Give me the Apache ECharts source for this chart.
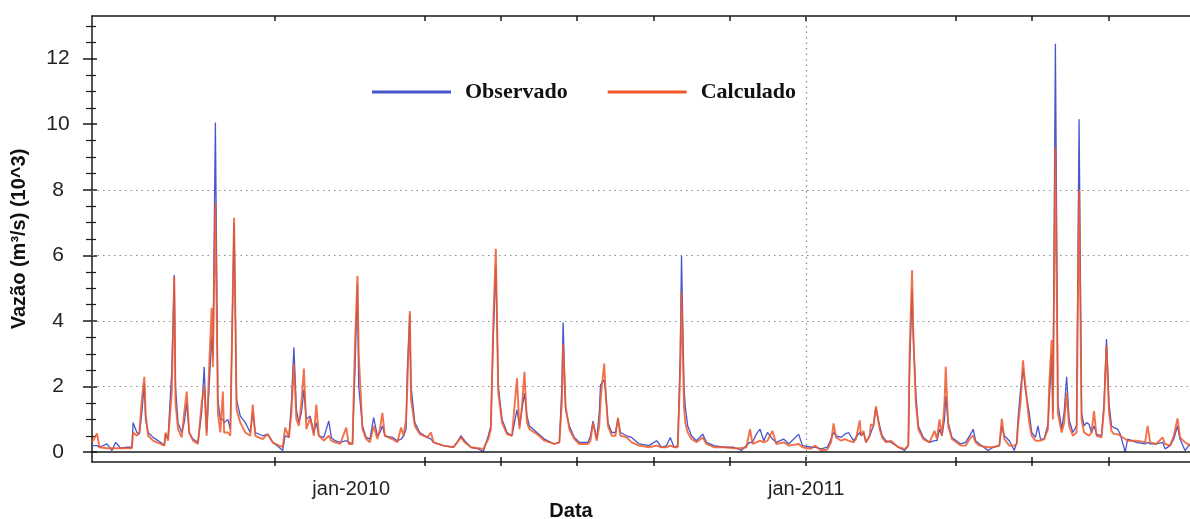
<!DOCTYPE html>
<html><head><meta charset="utf-8">
<script src="https://cdn.jsdelivr.net/npm/echarts@6/dist/echarts.min.js"></script>
<style>html,body{margin:0;padding:0;background:#fff;}#c{width:1190px;height:519px;}</style>
</head><body><div id="c"></div>
<script>
// ---- data (daily discharge, 10^3 m3/s) ----
const dates = ['2009-06-07','2009-06-11','2009-06-13','2009-06-19','2009-06-23','2009-06-26','2009-06-30','2009-07-05','2009-07-09','2009-07-10','2009-07-13','2009-07-15','2009-07-17','2009-07-19','2009-07-20','2009-07-22','2009-07-26','2009-08-01','2009-08-04','2009-08-05','2009-08-07','2009-08-10','2009-08-12','2009-08-13','2009-08-15','2009-08-18','2009-08-20','2009-08-22','2009-08-24','2009-08-27','2009-08-31','2009-09-01','2009-09-03','2009-09-05','2009-09-07','2009-09-09','2009-09-11','2009-09-12','2009-09-14','2009-09-16','2009-09-18','2009-09-20','2009-09-21','2009-09-24','2009-09-26','2009-09-29','2009-10-01','2009-10-04','2009-10-08','2009-10-12','2009-10-14','2009-10-16','2009-10-22','2009-10-26','2009-10-30','2009-11-04','2009-11-07','2009-11-09','2009-11-12','2009-11-14','2009-11-16','2009-11-18','2009-11-20','2009-11-22','2009-11-24','2009-11-26','2009-11-29','2009-12-02','2009-12-04','2009-12-06','2009-12-10','2009-12-14','2009-12-16','2009-12-19','2009-12-23','2009-12-28','2009-12-30','2010-01-02','2010-01-04','2010-01-06','2010-01-07','2010-01-10','2010-01-13','2010-01-16','2010-01-19','2010-01-22','2010-01-24','2010-01-26','2010-01-28','2010-02-03','2010-02-07','2010-02-10','2010-02-12','2010-02-14','2010-02-15','2010-02-17','2010-02-18','2010-02-21','2010-02-25','2010-03-03','2010-03-06','2010-03-08','2010-03-16','2010-03-24','2010-03-27','2010-03-30','2010-04-02','2010-04-07','2010-04-13','2010-04-17','2010-04-21','2010-04-23','2010-04-25','2010-04-27','2010-04-29','2010-05-02','2010-05-06','2010-05-10','2010-05-12','2010-05-14','2010-05-16','2010-05-18','2010-05-20','2010-05-22','2010-05-24','2010-05-30','2010-06-05','2010-06-13','2010-06-17','2010-06-19','2010-06-20','2010-06-22','2010-06-25','2010-06-29','2010-07-03','2010-07-10','2010-07-12','2010-07-14','2010-07-17','2010-07-19','2010-07-20','2010-07-21','2010-07-23','2010-07-24','2010-07-26','2010-07-29','2010-08-01','2010-08-03','2010-08-05','2010-08-10','2010-08-14','2010-08-20','2010-08-28','2010-09-03','2010-09-07','2010-09-11','2010-09-14','2010-09-17','2010-09-20','2010-09-22','2010-09-23','2010-09-25','2010-09-26','2010-09-28','2010-10-01','2010-10-05','2010-10-10','2010-10-13','2010-10-19','2010-10-27','2010-11-04','2010-11-10','2010-11-14','2010-11-17','2010-11-19','2010-11-22','2010-11-25','2010-11-28','2010-12-01','2010-12-05','2010-12-08','2010-12-14','2010-12-18','2010-12-26','2010-12-29','2011-01-05','2011-01-08','2011-01-13','2011-01-18','2011-01-21','2011-01-23','2011-01-25','2011-01-29','2011-02-01','2011-02-04','2011-02-08','2011-02-10','2011-02-13','2011-02-14','2011-02-16','2011-02-18','2011-02-21','2011-02-22','2011-02-24','2011-02-26','2011-03-01','2011-03-03','2011-03-06','2011-03-10','2011-03-16','2011-03-21','2011-03-24','2011-03-25','2011-03-27','2011-03-28','2011-03-30','2011-04-01','2011-04-05','2011-04-10','2011-04-14','2011-04-16','2011-04-18','2011-04-20','2011-04-22','2011-04-23','2011-04-25','2011-04-28','2011-05-05','2011-05-09','2011-05-13','2011-05-15','2011-05-17','2011-05-20','2011-05-27','2011-05-31','2011-06-05','2011-06-07','2011-06-09','2011-06-13','2011-06-17','2011-06-19','2011-06-20','2011-06-22','2011-06-24','2011-06-26','2011-06-29','2011-07-01','2011-07-04','2011-07-06','2011-07-08','2011-07-11','2011-07-14','2011-07-15','2011-07-17','2011-07-18','2011-07-20','2011-07-22','2011-07-25','2011-07-27','2011-07-29','2011-07-31','2011-08-03','2011-08-06','2011-08-08','2011-08-10','2011-08-12','2011-08-14','2011-08-16','2011-08-18','2011-08-20','2011-08-22','2011-08-26','2011-08-28','2011-08-30','2011-09-01','2011-09-03','2011-09-05','2011-09-08','2011-09-10','2011-09-14','2011-09-16','2011-09-23','2011-09-30','2011-10-02','2011-10-04','2011-10-09','2011-10-14','2011-10-16','2011-10-20','2011-10-23','2011-10-26','2011-10-28','2011-11-01','2011-11-05'];
const observado = [0.20,0.20,0.15,0.25,0.05,0.30,0.12,0.15,0.15,0.90,0.60,0.55,1.20,2.10,1.00,0.60,0.45,0.30,0.20,0.55,0.40,2.50,5.40,2.00,0.90,0.60,0.90,1.50,0.60,0.40,0.30,0.25,1.20,2.60,0.60,2.00,3.50,2.90,10.05,1.60,1.00,1.00,0.90,1.00,0.70,7.00,1.60,1.10,0.90,0.60,1.20,0.60,0.50,0.55,0.30,0.15,0.05,0.50,0.45,1.50,3.20,1.30,0.90,1.20,1.90,1.00,1.10,0.60,0.90,0.50,0.45,0.95,0.45,0.35,0.30,0.35,0.30,0.25,2.50,5.15,2.00,0.80,0.45,0.40,1.05,0.50,0.60,0.80,0.50,0.45,0.35,0.40,0.50,0.70,2.50,4.20,2.00,0.90,0.60,0.45,0.40,0.30,0.20,0.15,0.30,0.50,0.35,0.15,0.10,0.02,0.50,0.80,3.50,5.70,2.00,1.00,0.60,0.50,0.90,1.30,0.80,1.30,1.80,1.10,0.80,0.60,0.40,0.25,0.30,2.00,3.95,1.30,0.80,0.45,0.30,0.30,0.50,0.95,0.40,1.20,2.05,2.00,2.20,1.90,0.90,0.60,0.60,1.00,0.60,0.50,0.45,0.25,0.20,0.35,0.15,0.20,0.45,0.15,0.20,3.00,6.00,2.00,1.40,0.80,0.50,0.35,0.55,0.30,0.20,0.15,0.15,0.05,0.20,0.30,0.30,0.55,0.70,0.35,0.60,0.40,0.30,0.40,0.25,0.55,0.20,0.15,0.15,0.10,0.15,0.40,0.60,0.50,0.45,0.55,0.60,0.35,0.45,0.60,0.50,0.60,0.30,0.50,0.60,0.80,1.35,0.80,0.50,0.35,0.30,0.15,0.05,0.20,2.50,4.95,3.50,1.80,0.80,0.45,0.30,0.35,0.35,0.70,0.50,1.00,1.70,0.90,0.45,0.25,0.30,0.55,0.70,0.35,0.25,0.05,0.15,0.20,0.80,0.50,0.35,0.05,0.30,1.00,1.90,2.55,1.90,1.20,0.60,0.45,0.80,0.40,0.40,0.85,1.50,3.00,1.20,12.45,1.50,0.70,1.20,2.30,1.00,0.60,0.80,10.15,1.20,0.80,0.90,0.85,0.60,0.80,0.55,0.50,1.50,3.45,1.50,0.80,0.75,0.70,0.55,0.00,0.40,0.30,0.25,0.30,0.25,0.25,0.30,0.10,0.20,0.40,0.80,0.40,0.05,0.25];
const calculado = [0.30,0.57,0.15,0.12,0.12,0.12,0.12,0.12,0.12,0.60,0.50,0.60,1.60,2.30,1.20,0.50,0.35,0.25,0.20,0.60,0.35,1.80,5.35,1.50,0.70,0.45,1.20,1.85,0.60,0.35,0.25,0.30,1.50,2.00,0.50,2.60,4.40,2.60,7.60,1.20,0.60,1.85,0.60,0.60,0.50,7.15,1.30,0.90,0.60,0.50,1.45,0.50,0.40,0.55,0.30,0.20,0.15,0.75,0.45,1.20,2.70,1.00,0.80,1.50,2.55,0.70,1.05,0.50,1.45,0.50,0.35,0.50,0.35,0.30,0.25,0.75,0.25,0.25,3.30,5.38,3.00,0.70,0.40,0.30,0.80,0.40,0.70,1.20,0.50,0.40,0.30,0.75,0.50,1.00,2.00,4.30,1.60,0.80,0.55,0.45,0.60,0.30,0.20,0.15,0.30,0.45,0.30,0.15,0.12,0.10,0.40,0.70,4.00,6.20,1.80,0.90,0.55,0.50,1.40,2.25,0.70,1.40,2.45,0.90,0.70,0.55,0.35,0.25,0.30,1.50,3.30,1.40,0.70,0.40,0.25,0.25,0.35,0.90,0.35,0.80,1.50,2.00,2.70,1.90,0.80,0.50,0.50,1.05,0.50,0.45,0.30,0.20,0.15,0.20,0.15,0.15,0.20,0.15,0.15,2.50,4.90,1.40,0.90,0.60,0.40,0.30,0.45,0.25,0.15,0.15,0.12,0.12,0.15,0.70,0.25,0.30,0.35,0.30,0.35,0.65,0.25,0.30,0.20,0.25,0.15,0.10,0.20,0.05,0.08,0.30,0.88,0.45,0.35,0.40,0.35,0.30,0.40,0.97,0.50,0.65,0.30,0.50,0.85,0.80,1.40,0.70,0.45,0.30,0.35,0.15,0.10,0.20,3.00,5.55,3.60,1.50,0.70,0.40,0.30,0.65,0.40,1.00,0.50,1.50,2.60,0.80,0.40,0.20,0.20,0.45,0.50,0.30,0.20,0.15,0.15,0.20,1.02,0.40,0.20,0.20,0.25,0.80,1.50,2.80,2.00,0.90,0.50,0.35,0.35,0.35,0.40,0.70,2.00,3.42,1.00,9.30,1.20,0.60,0.90,1.80,0.80,0.50,0.60,8.00,1.00,0.60,0.55,0.50,0.60,1.25,0.50,0.45,1.30,3.25,1.20,0.65,0.55,0.55,0.50,0.40,0.35,0.35,0.30,0.80,0.30,0.25,0.45,0.25,0.20,0.50,1.03,0.45,0.30,0.20];
const seriesNames = ['Observado', 'Calculado'];
const xRange = ['2009-06-07', '2011-11-05'];
const xTickDates = ['2009-11-01','2010-03-01','2010-05-01','2010-07-01','2010-09-01','2010-11-01','2011-01-01','2011-05-01','2011-07-01','2011-09-01'];
const xLabelDates = ['2010-01-01', '2011-01-01'];
const xLabels = ['jan-2010', 'jan-2011'];
const xGridDates = ['2011-01-01'];
const yRange = [-0.3, 13.3];
const yTicks = [0, 2, 4, 6, 8, 10, 12];
const yMinorTicks = [0.5,1,1.5,2.5,3,3.5,4.5,5,5.5,6.5,7,7.5,8.5,9,9.5,10.5,11,11.5,12.5,13];
const yGridLines = [2, 4, 6, 8];

// ---- build ----
const T0 = Date.parse('2010-01-01');
const toDay = s => (Date.parse(s) - T0) / 86400000;
const obsData = dates.map((d, i) => [toDay(d), observado[i]]);
const calData = dates.map((d, i) => [toDay(d), calculado[i]]);
const xTickDays = xTickDates.map(toDay);
const xLabelDays = xLabelDates.map(toDay);
const INK = '#1a1a1a';
const FONT = 'Liberation Sans, Arial, sans-serif';

function yAx(extra) {
  return Object.assign({
    type: 'value', min: yRange[0], max: yRange[1], position: 'left',
    axisLine: { show: false, onZero: false }, axisLabel: { show: false },
    splitLine: { show: false }, axisTick: { show: false }
  }, extra);
}
function xAx(extra) {
  return Object.assign({
    type: 'value', min: toDay(xRange[0]), max: toDay(xRange[1]),
    axisLine: { show: false, onZero: false }, axisLabel: { show: false },
    splitLine: { show: false }, axisTick: { show: false }
  }, extra);
}

const chart = echarts.init(document.getElementById('c'), null, { renderer: 'canvas' });
chart.setOption({
  animation: false,
  backgroundColor: '#fff',
  grid: { left: 92, top: 16, right: -2, bottom: 57 },
  legend: {
    data: seriesNames, left: 367, top: 76, icon: 'rect',
    itemWidth: 79, itemHeight: 3, itemGap: 40,
    textStyle: { fontFamily: 'Liberation Serif, Times New Roman, serif', fontWeight: 'bold', fontSize: 22, color: '#111', padding: [0, 0, 0, 9] }
  },
  xAxis: [
    xAx({ position: 'bottom',
      axisLine: { show: true, onZero: false, lineStyle: { color: INK, width: 1.5 } },
      axisTick: { show: true, inside: false, length: 4, customValues: xTickDays, lineStyle: { color: INK, width: 1.5 } },
      axisLabel: { show: true, customValues: xLabelDays, margin: 17, fontSize: 20, fontFamily: FONT, color: '#222',
        formatter: v => { const i = xLabelDays.findIndex(d => Math.abs(d - v) < 0.5); return i >= 0 ? xLabels[i] : ''; } } }),
    xAx({ position: 'bottom',
      axisTick: { show: true, inside: true, length: 5, customValues: xTickDays, lineStyle: { color: INK, width: 1.5 } } }),
    xAx({ position: 'top',
      axisLine: { show: true, onZero: false, lineStyle: { color: INK, width: 1.5 } },
      axisTick: { show: true, inside: true, length: 5, customValues: xTickDays, lineStyle: { color: INK, width: 1.5 } } })
  ],
  yAxis: [
    yAx({ axisLine: { show: true, onZero: false, lineStyle: { color: INK, width: 1.5 } },
      axisTick: { show: true, inside: false, length: 9, customValues: yTicks, lineStyle: { color: INK, width: 1.5 } },
      axisLabel: { show: true, customValues: yTicks, align: 'center', margin: 34, fontSize: 21, fontFamily: FONT, color: '#222' },
      name: 'Vazão (m³/s) (10^3)', nameLocation: 'middle', nameGap: 63,
      nameTextStyle: { fontFamily: FONT, fontWeight: 'bold', fontSize: 20, color: '#111' } }),
    yAx({ axisTick: { show: true, inside: true, length: 5, customValues: yTicks, lineStyle: { color: INK, width: 1.5 } } }),
    yAx({ axisTick: { show: true, inside: false, length: 6, customValues: yMinorTicks, lineStyle: { color: INK, width: 1.2 } } }),
    yAx({ axisTick: { show: true, inside: true, length: 4, customValues: yMinorTicks, lineStyle: { color: INK, width: 1.2 } } })
  ],
  graphic: [{
    type: 'text', x: 571, y: 511,
    style: { text: 'Data', fontFamily: FONT, fontWeight: 'bold', fontSize: 20, fill: '#111', textAlign: 'center', textVerticalAlign: 'middle' }
  }],
  series: [
    {
      name: seriesNames[0], type: 'line', data: obsData, showSymbol: false, color: '#4657cc',
      lineStyle: { width: 1.3, color: '#4657cc' }, z: 3,
      markLine: {
        silent: true, symbol: 'none', label: { show: false },
        data: [
          ...yGridLines.map(v => ({ yAxis: v, lineStyle: { type: [1.5, 4], color: '#8a8a8a', width: 1.2 } })),
          ...xGridDates.map(d => ({ xAxis: toDay(d), lineStyle: { type: [1.5, 4], color: '#8a8a8a', width: 1.2 } })),
          { yAxis: 0, lineStyle: { type: 'solid', color: INK, width: 1.5 } }
        ]
      }
    },
    {
      name: seriesNames[1], type: 'line', data: calData, showSymbol: false, color: '#f0582a',
      lineStyle: { width: 1.9, color: '#f0582a', opacity: 0.85 }, z: 4
    }
  ]
});
</script>
</body></html>
